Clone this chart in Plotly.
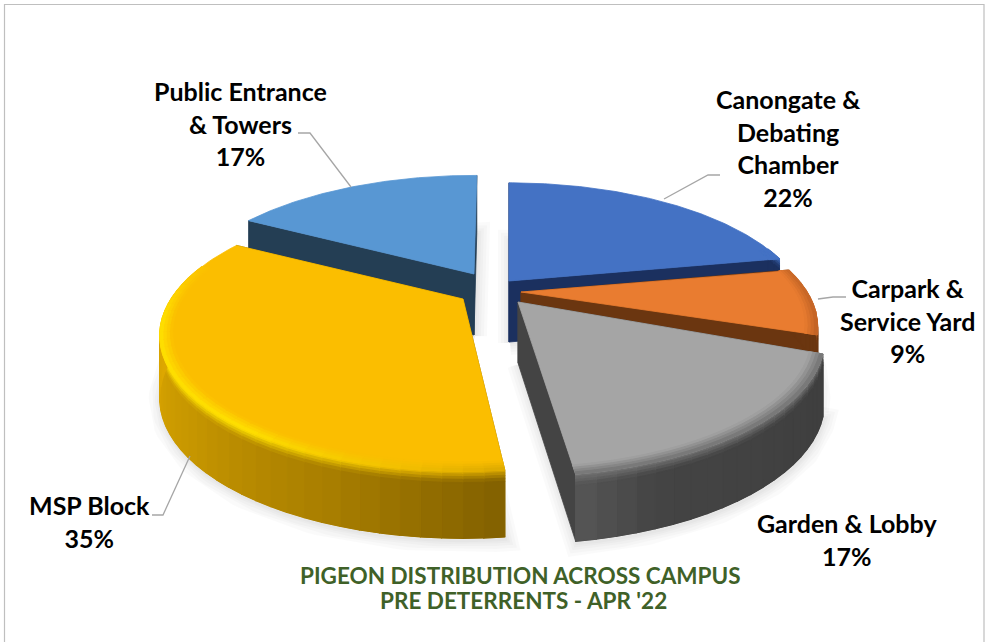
import numpy as np
import plotly.graph_objects as go

# ---- data ----
categories = ["Canongate &<br>Debating<br>Chamber", "Carpark &<br>Service Yard", "Garden & Lobby",
              "MSP Block", "Public Entrance<br>& Towers"]
shares = [22, 9, 17, 35, 17]
title_lines = ["PIGEON DISTRIBUTION ACROSS CAMPUS", "PRE DETERRENTS - APR '22"]

# ---- styling / layout constants (pixels in the 985x642 page) ----
top_colors = [(68, 114, 196), (233, 124, 48), (165, 165, 165), (251, 190, 0), (88, 151, 211)]
side_colors = [(27, 48, 95), (107, 54, 16), (68, 68, 68), (128, 95, 0), (36, 62, 84)]
explode_anchor = [(509, 281), (521, 292), (518, 302), (463, 299), (474, 274)]
radius_tweak = [0.98, 0.97, 1.0, 0.99, 0.985]
start_trim = [0.0, 0.0, 0.0, 1.2, 0.0]
end_trim = [0.0, -3.0, -1.0, 0.0, 0.7]
wall_stops = [
    [(0, (27, 48, 95)), (90, (27, 48, 95))],
    [(70, (107, 54, 16)), (112, (107, 54, 16))],
    [(111, (62, 62, 62)), (160, (68, 68, 68)), (173, (88, 88, 88))],
    [(173, (128, 95, 0)), (200, (168, 126, 0)), (230, (198, 150, 0)), (265, (222, 168, 0)), (290, (222, 168, 0))],
    [(290, (36, 62, 84)), (360, (36, 62, 84))],
]
rim_stops = [
    [(0, (68, 114, 196)), (90, (68, 114, 196))],
    [(70, (200, 105, 40)), (112, (190, 95, 35))],
    [(111, (115, 115, 115)), (173, (115, 115, 115))],
    [(173, (215, 165, 0)), (188, (240, 190, 0)), (215, (255, 226, 0)), (262, (255, 226, 0)), (290, (251, 190, 0))],
    [(290, (88, 151, 211)), (360, (88, 151, 211))],
]
draw_order = [4, 0, 1, 3, 2]
label_pos = [(788, 148), (907, 320.5), (847, 539), (89, 521), (240, 123.5)]
leaders = [
    [(720, 175), (708, 175), (664, 199)],
    [(846, 297), (833, 297), (818, 299)],
    None,
    [(152, 515), (163, 515), (190, 456)],
    [(298, 133), (310, 133), (351, 187)],
]
SCALE_X, SCALE_Y, PERSP, DEPTH, DEPTH_POW = 295.0, 127.0, 0.273, 61.0, 0.3


def rgb(c):
    return "rgb(%d,%d,%d)" % tuple(int(round(v)) for v in c)


def lerp(a, b, t):
    return tuple(x + (y - x) * t for x, y in zip(a, b))


def stop_color(stops, th):
    ts = [s[0] for s in stops]
    return tuple(np.interp(th, ts, [s[1][k] for s in stops]) for k in range(3))


def project(i, th, r=1.0, z=0.0):
    ax, ay = explode_anchor[i]
    a = np.radians(th)
    r = r * radius_tweak[i]
    X, Y = r * np.sin(a), r * np.cos(a)
    w = 1 + PERSP * Y
    return ax + SCALE_X * X / w, ay - SCALE_Y * Y / w + DEPTH * z / w ** DEPTH_POW


fig = go.Figure()


def poly(pts, color, lw=0.8):
    fig.add_trace(go.Scatter(x=[p[0] for p in pts] + [pts[0][0]], y=[p[1] for p in pts] + [pts[0][1]],
                             mode="lines", fill="toself", fillcolor=rgb(color),
                             line=dict(color=rgb(color), width=lw), hoverinfo="skip", showlegend=False))


edges = np.concatenate([[0], np.cumsum(shares)]) * 360.0 / sum(shares)
starts = edges[:-1] + np.array(start_trim)
ends = edges[1:] + np.array(end_trim)
arcs = [np.linspace(starts[i], ends[i], 90) for i in range(len(shares))]

# soft ground shadow
for i in range(len(shares)):
    pts = [project(i, 0, 0, 1)] + [project(i, t, 1, 1.02) for t in arcs[i]]
    for width in (24, 18, 12, 7, 3):
        fig.add_trace(go.Scatter(x=[p[0] + 1 for p in pts] + [pts[0][0] + 1], y=[p[1] + 1 for p in pts] + [pts[0][1] + 1],
                                 mode="lines", line=dict(color="rgba(0,0,0,0.018)", width=width),
                                 hoverinfo="skip", showlegend=False))

r_bands = [(0.96, 0.97, 0.125), (0.97, 0.98, 0.375), (0.98, 0.99, 0.625), (0.99, 1.0, 0.875)]
z_bands = [(0.0, 0.04, 0.125), (0.04, 0.08, 0.375), (0.08, 0.12, 0.625), (0.12, 0.17, 0.875), (0.17, 1.0, 1.0)]

# slices, back to front; walls first so the top face paints over anything facing away
for i in draw_order:
    for th in (starts[i], ends[i]):
        poly([project(i, 0, 0, 0), project(i, th, 1, 0), project(i, th, 1, 1), project(i, 0, 0, 1)], side_colors[i])
    lo, hi = max(starts[i], 74.0), min(ends[i], 286.0)
    strips = []
    if hi > lo:
        ths = np.linspace(lo, hi, max(2, int((hi - lo) / 3.0)) + 1)
        strips = list(zip(ths[:-1], ths[1:]))
        under = np.linspace(lo, hi, 60)
        poly([project(i, t, 1, 0.1) for t in under] + [project(i, t, 1, 1) for t in under[::-1]],
             stop_color(wall_stops[i], (lo + hi) / 2), lw=0.5)
    for a, b in strips:
        m = (a + b) / 2
        wall, rim = stop_color(wall_stops[i], m), stop_color(rim_stops[i], m)
        for z0, z1, t in z_bands:
            poly([project(i, a, 1, z0), project(i, b, 1, z0), project(i, b, 1, z1), project(i, a, 1, z1)],
                 lerp(rim, wall, t), lw=1.2)
    poly([project(i, 0, 0, 0)] + [project(i, t, 1, 0) for t in arcs[i]], top_colors[i])
    for a, b in strips:
        m = (a + b) / 2
        rim = stop_color(rim_stops[i], m)
        for r0, r1, t in r_bands:
            poly([project(i, a, r0), project(i, b, r0), project(i, b, r1), project(i, a, r1)],
                 lerp(top_colors[i], rim, t), lw=1.0)

# leader lines
for seg in leaders:
    if seg:
        fig.add_trace(go.Scatter(x=[p[0] for p in seg], y=[p[1] for p in seg], mode="lines",
                                 line=dict(color="#a6a6a6", width=1.3), hoverinfo="skip", showlegend=False))

annotations = [dict(x=label_pos[i][0], y=label_pos[i][1], xref="x", yref="y",
                    text=f"<b>{categories[i]}<br>{shares[i]}%</b>", showarrow=False, align="center",
                    font=dict(family="Lato, sans-serif", size=25, color="#000000"))
               for i in range(len(shares))]
for line, cx, cy in zip(title_lines, (520, 523), (575, 600)):
    annotations.append(dict(x=cx, y=cy, xref="x", yref="y", text=f"<b>{line}</b>", showarrow=False, align="center",
                            font=dict(family="Lato, sans-serif", size=22.5, color="#3f6128")))

fig.update_layout(
    width=985, height=642, margin=dict(l=0, r=0, t=0, b=0),
    paper_bgcolor="white", plot_bgcolor="white", showlegend=False, annotations=annotations,
    xaxis=dict(range=[0, 985], visible=False, fixedrange=True),
    yaxis=dict(range=[642, 0], visible=False, fixedrange=True),
    shapes=[dict(type="rect", xref="x", yref="y", x0=4.5, y0=4.5, x1=984, y1=660,
                 line=dict(color="#bfbfbf", width=1.2), layer="below")],
)
fig.write_html("out.html", config=dict(displayModeBar=False),
               post_script="document.body.style.margin='0';document.documentElement.style.overflow='hidden';")
